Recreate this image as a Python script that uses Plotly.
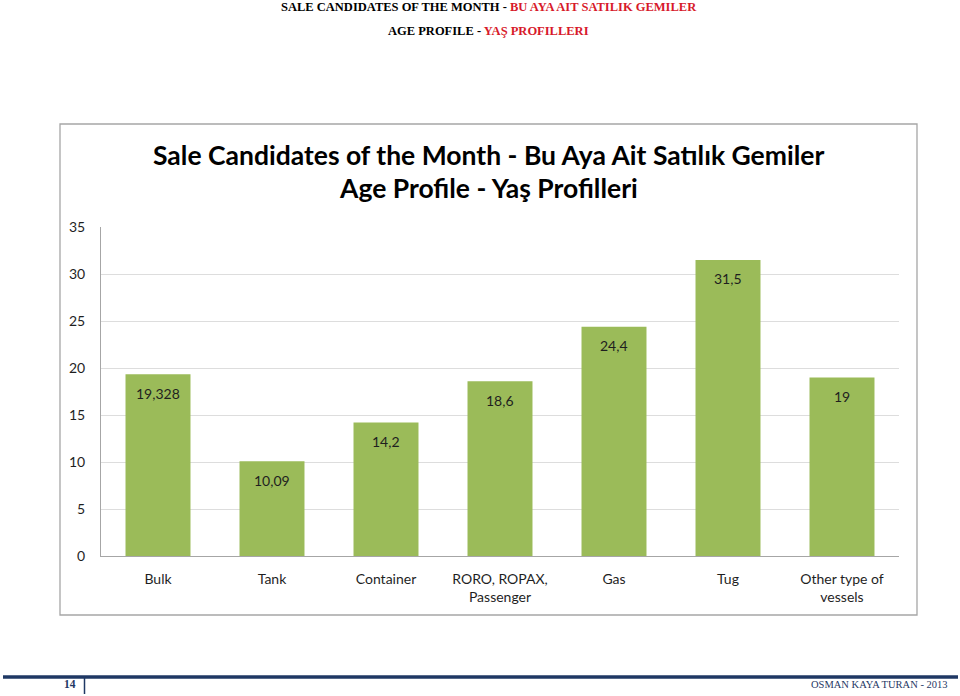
import plotly.graph_objects as go

categories = ["Bulk", "Tank", "Container", "RORO, ROPAX,<br>Passenger", "Gas", "Tug", "Other type of<br>vessels"]
ages = [19.328, 10.09, 14.2, 18.6, 24.4, 31.5, 19]
y_ticks = [0, 5, 10, 15, 20, 25, 30, 35]

W, H = 960, 696
L, R, T, B = 101, 61, 227, 140
PW, PH = W - L - R, H - T - B


def px(x):
    return (x - L) / PW


def py(y):
    return (H - B - y) / PH


GREEN = "#9BBB59"
TXT = "#1F1F1F"
NAVY = "#1F3864"
CAL = "Lato, 'Open Sans', sans-serif"
SERIF = "'Liberation Serif', 'DejaVu Serif', serif"

fig = go.Figure()
fig.add_trace(go.Bar(x=categories, y=ages, marker=dict(color=GREEN, line=dict(width=0)),
                     hoverinfo="skip", showlegend=False))

annotations = []
for c, v in zip(categories, ages):
    annotations.append(dict(x=c, y=v, xref="x", yref="y", text=f"{v:g}".replace(".", ","),
                            showarrow=False, yshift=-19, font=dict(family=CAL, size=14, color=TXT)))

# chart titles
annotations.append(dict(x=px(488.5), y=py(155), xref="paper", yref="paper", showarrow=False,
                        text="<b>Sale Candidates of the Month - Bu Aya Ait Satılık Gemiler</b>",
                        font=dict(family=CAL, size=26.5, color="#000"), xanchor="center", yanchor="middle"))
annotations.append(dict(x=px(488.5), y=py(188), xref="paper", yref="paper", showarrow=False,
                        text="<b>Age Profile - Yaş Profilleri</b>",
                        font=dict(family=CAL, size=26.5, color="#000"), xanchor="center", yanchor="middle"))

# page header
annotations.append(dict(x=px(488.5), y=py(7), xref="paper", yref="paper", showarrow=False,
                        text="<b>SALE CANDIDATES OF THE MONTH - <span style='color:#D7192A'>BU AYA AIT SATILIK GEMILER</span></b>",
                        font=dict(family=SERIF, size=12.5, color="#000"), xanchor="center", yanchor="middle"))
annotations.append(dict(x=px(488.5), y=py(31), xref="paper", yref="paper", showarrow=False,
                        text="<b>AGE PROFILE - <span style='color:#D7192A'>YAŞ PROFILLERI</span></b>",
                        font=dict(family=SERIF, size=12.5, color="#000"), xanchor="center", yanchor="middle"))

# footer
annotations.append(dict(x=px(78), y=py(684), xref="paper", yref="paper", showarrow=False,
                        text="<b>14</b>", font=dict(family=SERIF, size=11.5, color=NAVY),
                        xanchor="right", yanchor="middle"))
annotations.append(dict(x=px(950), y=py(684), xref="paper", yref="paper", showarrow=False,
                        text="OSMAN KAYA TURAN - 2013", font=dict(family=SERIF, size=10.5, color=NAVY),
                        xanchor="right", yanchor="middle"))

shapes = [
    dict(type="rect", xref="paper", yref="paper", x0=px(60), x1=px(917), y0=py(615), y1=py(124),
         line=dict(color="#A6A6A6", width=1.3), fillcolor="rgba(0,0,0,0)", layer="below"),
    dict(type="line", xref="paper", yref="paper", x0=px(3), x1=px(958), y0=py(677), y1=py(677),
         line=dict(color=NAVY, width=3.5)),
    dict(type="line", xref="paper", yref="paper", x0=px(84.5), x1=px(84.5), y0=py(677), y1=py(694),
         line=dict(color=NAVY, width=1.5)),
]

fig.update_layout(
    width=W, height=H,
    margin=dict(l=L, r=R, t=T, b=B, autoexpand=False),
    paper_bgcolor="white", plot_bgcolor="white",
    bargap=0.43,
    annotations=annotations, shapes=shapes,
    font=dict(family=CAL, size=14, color=TXT),
    xaxis=dict(showgrid=False, showline=True, linecolor="#A6A6A6", linewidth=1, ticks="",
               tickfont=dict(family=CAL, size=14, color=TXT), ticklabelstandoff=10, fixedrange=True),
    yaxis=dict(range=[0, 35], tickvals=y_ticks, showgrid=True, gridcolor="#DDDDDD", gridwidth=1,
               showline=True, linecolor="#A6A6A6", linewidth=1, ticks="", zeroline=False,
               tickfont=dict(family=CAL, size=14, color=TXT), ticklabelstandoff=12, fixedrange=True),
)

fig.write_html("out.html", config={"displayModeBar": False},
               post_script="document.body.style.margin='0';document.body.style.overflow='hidden';")
